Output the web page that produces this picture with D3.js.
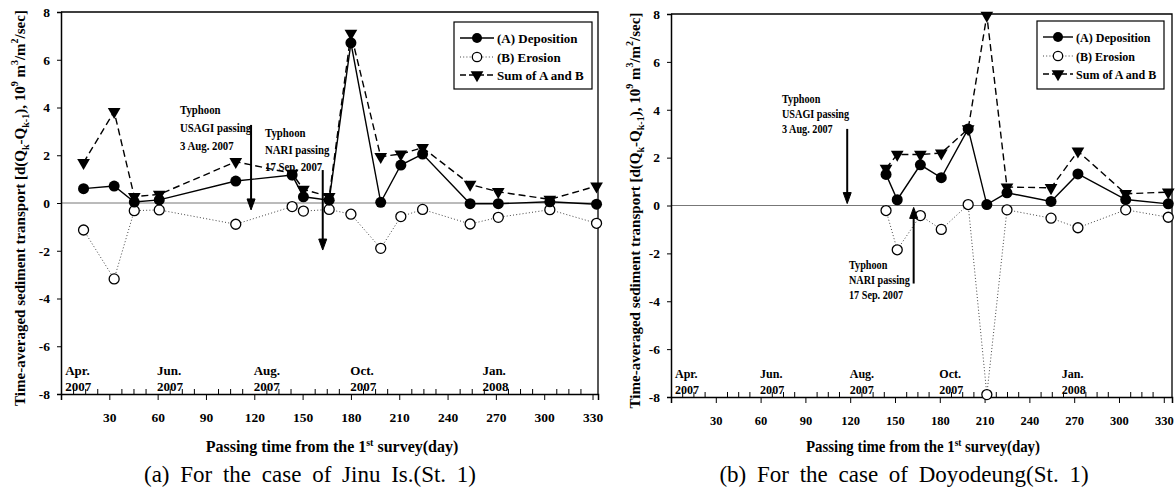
<!DOCTYPE html>
<html>
<head>
<meta charset="utf-8">
<script src="https://cdn.jsdelivr.net/npm/d3@7"></script>
<style>
  body { margin: 0; background: #fff; }
  svg { display: block; font-family: "Liberation Serif", "Times New Roman", serif; }
</style>
</head>
<body>
<svg id="chart" width="1176" height="494"></svg>
<script>
// (a) Jinu Is. (St. 1)
const daysA = [14, 33, 45.5, 61, 108.5, 143.5, 150.5, 166.5, 180, 198.5, 211, 224.5, 254, 271.5, 303.5, 332.5];
const depositionA = [0.6, 0.71, 0.04, 0.13, 0.92, 1.17, 0.26, 0.12, 6.71, 0.03, 1.59, 2.05, -0.03, -0.03, 0.05, -0.05];
const erosionA = [-1.13, -3.18, -0.32, -0.29, -0.89, -0.15, -0.34, -0.27, -0.47, -1.9, -0.57, -0.27, -0.88, -0.6, -0.28, -0.85];
const sumA = [1.69, 3.83, 0.27, 0.36, 1.73, 1.24, 0.57, 0.27, 7.1, 1.94, 2.05, 2.32, 0.78, 0.47, 0.15, 0.71];

// (b) Doyodeung (St. 1)
const daysB = [144, 151.5, 167, 181, 199, 211.5, 225, 254.5, 272.5, 304.5, 333];
const depositionB = [1.3, 0.24, 1.7, 1.16, 3.2, 0.04, 0.53, 0.17, 1.32, 0.25, 0.07];
const erosionB = [-0.21, -1.85, -0.42, -1.0, 0.04, -7.9, -0.18, -0.53, -0.93, -0.18, -0.49];
const sumB = [1.55, 2.13, 2.13, 2.19, 3.2, 7.94, 0.77, 0.74, 2.27, 0.49, 0.56];

// axes
const yTicks = [-8, -6, -4, -2, 0, 2, 4, 6, 8];
const xTicks = [30, 60, 90, 120, 150, 180, 210, 240, 270, 300, 330];
const monthDays = [2, 59, 119, 179, 261];
const monthNames = ["Apr.", "Jun.", "Aug.", "Oct.", "Jan."];
const monthYears = ["2007", "2007", "2007", "2007", "2008"];

const legendNames = ["(A) Deposition", "(B) Erosion", "Sum of A and B"];
const typhoonDays = [118, 162.5];

const svg = d3.select("#chart");

function txt(g, x, y, s, size, sx, opts = {}) {
  return g.append("text")
    .attr("transform", `translate(${x},${y}) scale(${sx},1)`)
    .attr("font-size", size)
    .attr("font-weight", opts.weight || "bold")
    .attr("text-anchor", opts.anchor || "start")
    .text(s);
}

function drawPanel(p) {
  const g = svg.append("g");
  const sx = p.sx;
  const x = d3.scaleLinear().domain([0, p.xMax]).range([p.left, p.right]);
  const y = d3.scaleLinear().domain([-8, 8]).range([p.bottom, p.top]);

  // frame (top and right)
  g.append("path")
    .attr("d", `M${p.left},${p.top}H${p.right}V${p.bottom}`)
    .attr("fill", "none").attr("stroke", "#000").attr("stroke-width", 1.3);

  // zero line
  g.append("line")
    .attr("x1", p.left).attr("x2", p.right)
    .attr("y1", y(0)).attr("y2", y(0))
    .attr("stroke", "#777").attr("stroke-width", 1);

  // y axis
  const ya = g.append("g")
    .attr("transform", `translate(${p.left},0)`)
    .call(d3.axisLeft(y).tickValues(yTicks).tickSize(4).tickPadding(7).tickFormat(d => String(d)));
  ya.select(".domain").attr("stroke-width", 1.5);
  ya.selectAll("text")
    .attr("font-family", "Liberation Serif").attr("font-size", 13.5).attr("font-weight", "bold")
    .attr("fill", "#000");

  // x axis: major ticks down, minor ticks up
  const xa = g.append("g")
    .attr("transform", `translate(0,${p.bottom})`)
    .call(d3.axisBottom(x).tickValues(xTicks).tickSize(6).tickPadding(12).tickFormat(d => String(d)));
  xa.select(".domain").attr("stroke-width", 1.5);
  xa.selectAll("text")
    .attr("font-family", "Liberation Serif").attr("font-size", 13.5).attr("font-weight", "bold")
    .attr("fill", "#000").attr("transform", `scale(${sx},1)`);
  const minor = d3.range(7.5, p.xMax, 7.5).filter(d => d % 30 !== 0);
  const xm = g.append("g")
    .attr("transform", `translate(0,${p.bottom})`)
    .call(d3.axisTop(x).tickValues(minor).tickSize(5).tickFormat(""));
  xm.select(".domain").remove();

  // month labels
  monthDays.forEach((d, i) => {
    txt(g, x(d) + 1, p.bottom - 19, monthNames[i], 13, sx);
    txt(g, x(d) + 1, p.bottom - 3, monthYears[i], 13, sx);
  });

  // x title
  const xt = g.append("text")
    .attr("transform", `translate(${p.xTitleX},452) scale(${sx},1)`)
    .attr("font-size", 16).attr("font-weight", "bold").attr("text-anchor", "middle");
  xt.append("tspan").text("Passing time from the 1");
  xt.append("tspan").attr("font-size", 10).attr("dy", -6).text("st");
  xt.append("tspan").attr("dy", 6).text(" survey(day)");

  // y title
  const yt = g.append("text")
    .attr("transform", `translate(${p.yTitleX},${(p.top + p.bottom) / 2 + 5}) rotate(-90)`)
    .attr("font-size", 15).attr("font-weight", "bold").attr("text-anchor", "middle");
  const parts = [
    ["Time-averaged sediment transport [d(Q", 0], ["k", 4], ["-Q", -4], ["k-1", 4], ["), 10", -4],
    ["9", -7], [" m", 7], ["3", -7], ["/m", 7], ["2", -7], ["/sec]", 7]
  ];
  parts.forEach(([s, dy]) => {
    const t = yt.append("tspan").attr("dy", dy).text(s);
    if (s === "k" || s === "k-1" || s === "9" || s === "3" || s === "2") t.attr("font-size", 10);
  });

  // series
  const depo = p.days.map((d, i) => ({ d, v: p.depo[i] }));
  const ero = p.days.map((d, i) => ({ d, v: p.ero[i] }));
  const sum = p.days.map((d, i) => ({ d, v: p.sum[i] }));
  const line = d3.line().x(d => x(d.d)).y(d => y(d.v));

  g.append("path").datum(ero).attr("d", line)
    .attr("fill", "none").attr("stroke", "#444").attr("stroke-width", 1).attr("stroke-dasharray", "1,2.2");
  g.append("path").datum(depo).attr("d", line)
    .attr("fill", "none").attr("stroke", "#000").attr("stroke-width", 1.4);
  g.append("path").datum(sum).attr("d", line)
    .attr("fill", "none").attr("stroke", "#000").attr("stroke-width", 1.4).attr("stroke-dasharray", "7,4");

  const tri = d3.symbol(d3.symbolTriangle, 70);
  g.selectAll(".ero").data(ero).join("circle")
    .attr("cx", d => x(d.d)).attr("cy", d => y(d.v)).attr("r", 5)
    .attr("fill", "#fff").attr("stroke", "#000").attr("stroke-width", 1.3);
  g.selectAll(".depo").data(depo).join("circle")
    .attr("cx", d => x(d.d)).attr("cy", d => y(d.v)).attr("r", 5.5).attr("fill", "#000");
  g.selectAll(".sum").data(sum).join("path")
    .attr("d", tri)
    .attr("transform", d => `translate(${x(d.d)},${y(d.v)}) rotate(180)`)
    .attr("fill", "#000");

  // typhoon arrows and notes
  p.typhoons.forEach((t, i) => {
    const ax = x(typhoonDays[i]);
    const y1 = y(t.from), y2 = y(t.to);
    const dir = y2 > y1 ? 1 : -1;
    g.append("line").attr("x1", ax).attr("x2", ax).attr("y1", y1).attr("y2", y2 - dir * 9)
      .attr("stroke", "#000").attr("stroke-width", 2);
    g.append("path")
      .attr("d", `M${ax - 4},${y2 - dir * 11}L${ax},${y2}L${ax + 4},${y2 - dir * 11}Z`)
      .attr("fill", "#000").attr("stroke", "#000").attr("stroke-width", 1);
    t.lines.forEach((s, k) => txt(g, t.tx, t.ty + k * t.gap, s, 12, t.sx));
  });

  // legend
  const L = p.legend;
  g.append("rect").attr("x", L.x).attr("y", L.y).attr("width", L.w).attr("height", L.h)
    .attr("fill", "#fff").attr("stroke", "#000").attr("stroke-width", 1.2);
  const rowY = [L.y + 16, L.y + 35, L.y + 53];
  const styles = [
    { dash: null, w: 1.4, c: "#000" },
    { dash: "1,2.2", w: 1, c: "#444" },
    { dash: "6,3", w: 1.4, c: "#000" }
  ];
  legendNames.forEach((name, i) => {
    const ry = rowY[i];
    const ln = g.append("line").attr("x1", L.lx1).attr("x2", L.lx2).attr("y1", ry).attr("y2", ry)
      .attr("stroke", styles[i].c).attr("stroke-width", styles[i].w);
    if (styles[i].dash) ln.attr("stroke-dasharray", styles[i].dash);
    const mx = (L.lx1 + L.lx2) / 2;
    if (i === 0) g.append("circle").attr("cx", mx).attr("cy", ry).attr("r", 5).attr("fill", "#000");
    if (i === 1) g.append("circle").attr("cx", mx).attr("cy", ry).attr("r", 4.7)
      .attr("fill", "#fff").attr("stroke", "#000").attr("stroke-width", 1.3);
    if (i === 2) g.append("path").attr("d", tri).attr("transform", `translate(${mx},${ry}) rotate(180)`).attr("fill", "#000");
    txt(g, L.tx, ry + 4.5, name, 13, sx);
  });

  // caption
  svg.append("text")
    .attr("x", p.captionX).attr("y", 482)
    .attr("font-size", 23).attr("text-anchor", "middle").attr("word-spacing", 5)
    .text(p.caption);
}

drawPanel({
  left: 61, right: 598, top: 12, bottom: 394, xMax: 333.4, sx: 1,
  days: daysA, depo: depositionA, ero: erosionA, sum: sumA,
  xTitleX: 332, yTitleX: 25,
  typhoons: [
    { from: 3.27, to: -0.29, tx: 180, ty: 114, gap: 18, sx: 0.9, lines: ["Typhoon", "USAGI passing", "3 Aug. 2007"] },
    { from: 1.38, to: -1.97, tx: 265, ty: 137, gap: 17, sx: 0.9, lines: ["Typhoon", "NARI passing", "17 Sep. 2007"] }
  ],
  legend: { x: 454, y: 22, w: 138, h: 67, lx1: 460, lx2: 494, tx: 497 },
  caption: "(a) For the case of Jinu Is.(St. 1)", captionX: 310
});

drawPanel({
  left: 671, right: 1172, top: 14, bottom: 397, xMax: 335.5, sx: 0.927,
  days: daysB, depo: depositionB, ero: erosionB, sum: sumB,
  xTitleX: 923, yTitleX: 640,
  typhoons: [
    { from: 3.2, to: 0.08, tx: 782, ty: 103, gap: 15, sx: 0.85, lines: ["Typhoon", "USAGI passing", "3 Aug. 2007"] },
    { from: -3.26, to: -0.08, tx: 849, ty: 269, gap: 15, sx: 0.85, lines: ["Typhoon", "NARI passing", "17 Sep. 2007"] }
  ],
  legend: { x: 1037, y: 21, w: 127, h: 68, lx1: 1043, lx2: 1073, tx: 1076 },
  caption: "(b) For the case of Doyodeung(St. 1)", captionX: 904
});
</script>
</body>
</html>
